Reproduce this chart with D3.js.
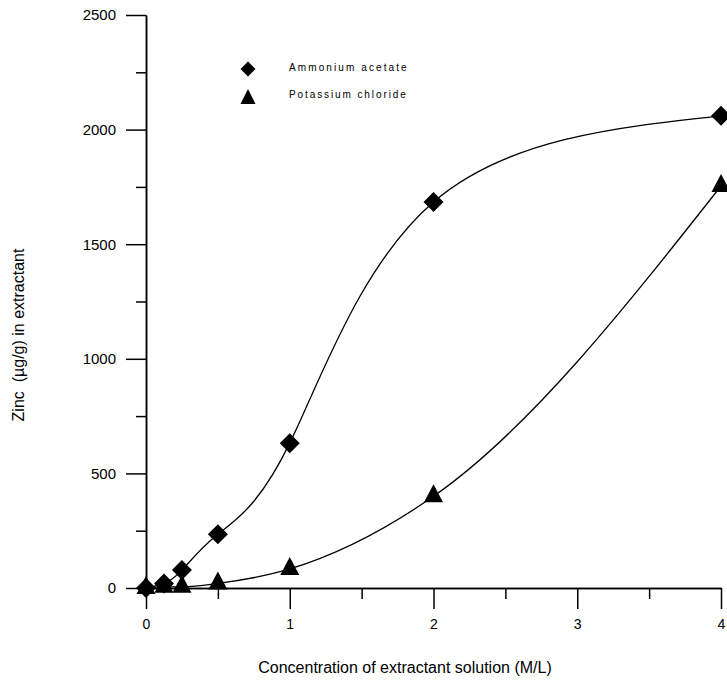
<!DOCTYPE html>
<html>
<head>
<meta charset="utf-8">
<script src="https://cdn.jsdelivr.net/npm/d3@7"></script>
<style>
  body { margin: 0; background: #fff; }
  svg { display: block; font-family: "Liberation Sans", Arial, sans-serif; }
  .axis path, .axis line { stroke: #000; stroke-width: 1.5; }
</style>
</head>
<body>
<div id="chart"></div>
<script>
var width = 727, height = 684;

// concentrations (M/L)
var conc = [0, 0.125, 0.25, 0.5, 1, 2, 4];
// zinc in extractant (ug/g)
var ammoniumAcetate = [0, 20, 78, 235, 632, 1684, 2060];
var potassiumChloride = [0, 5, 5, 20, 83, 400, 1754];

var xMajor = [0, 1, 2, 3, 4];
var xMinor = [0.5, 1.5, 2.5, 3.5];
var yMajor = [0, 500, 1000, 1500, 2000, 2500];
var yMinor = [250, 750, 1250, 1750, 2250];

var svg = d3.select("#chart")
  .append("svg")
  .attr("width", width)
  .attr("height", height);

var xScale = d3.scaleLinear()
  .domain([0, 4])
  .range([146, 721]);

var yScale = d3.scaleLinear()
  .domain([0, 2500])
  .range([588, 15]);

// minor ticks first, no labels
svg.append("g")
  .attr("class", "axis")
  .attr("transform", "translate(0,588)")
  .call(d3.axisBottom(xScale).tickValues(xMinor).tickSize(11).tickSizeOuter(0).tickFormat(""));

svg.append("g")
  .attr("class", "axis")
  .attr("transform", "translate(146,0)")
  .call(d3.axisLeft(yScale).tickValues(yMinor).tickSize(10).tickSizeOuter(0).tickFormat(""));

// major ticks with labels
var xAx = svg.append("g")
  .attr("class", "axis")
  .attr("transform", "translate(0,588)")
  .call(d3.axisBottom(xScale).tickValues(xMajor).tickSize(21).tickSizeOuter(0).tickPadding(10).tickFormat(d3.format("d")));

var yAx = svg.append("g")
  .attr("class", "axis")
  .attr("transform", "translate(146,0)")
  .call(d3.axisLeft(yScale).tickValues(yMajor).tickSize(20).tickSizeOuter(0).tickPadding(10).tickFormat(d3.format("d")));

xAx.selectAll("text").style("font-size", "14px").style("fill", "#000");
yAx.selectAll("text").style("font-size", "15px").style("fill", "#000");

// axis titles
svg.append("text")
  .attr("x", 405)
  .attr("y", 673)
  .attr("text-anchor", "middle")
  .style("font-size", "16px")
  .text("Concentration of extractant solution (M/L)");

svg.append("text")
  .attr("transform", "translate(24,335) rotate(-90)")
  .attr("text-anchor", "middle")
  .style("font-size", "16px")
  .style("white-space", "pre")
  .text("Zinc  (\u00b5g/g) in extractant");

// markers
function diamond(r) {
  return "M0," + (-r) + "L" + r + ",0L0," + r + "L" + (-r) + ",0Z";
}
function triangle(w, h) {
  return "M0," + (-h * 2 / 3) + "L" + (w / 2) + "," + (h / 3) + "L" + (-w / 2) + "," + (h / 3) + "Z";
}

var aaLine = d3.line()
  .x(function(d) { return xScale(d[0]); })
  .y(function(d) { return yScale(d[1]); })
  .curve(d3.curveNatural);

var kcLine = d3.line()
  .x(function(d) { return xScale(d[0]); })
  .y(function(d) { return yScale(d[1]); })
  .curve(d3.curveMonotoneX);

var aaData = conc.map(function(c, i) { return [c, ammoniumAcetate[i]]; });
var kcData = conc.map(function(c, i) { return [c, potassiumChloride[i]]; });

svg.append("path")
  .datum(aaData)
  .attr("d", aaLine)
  .attr("fill", "none")
  .attr("stroke", "#000")
  .attr("stroke-width", 1.3);

svg.append("path")
  .datum(kcData)
  .attr("d", kcLine)
  .attr("fill", "none")
  .attr("stroke", "#000")
  .attr("stroke-width", 1.3);

svg.selectAll(".aa")
  .data(aaData)
  .enter()
  .append("path")
  .attr("class", "aa")
  .attr("transform", function(d) { return "translate(" + xScale(d[0]) + "," + yScale(d[1]) + ")"; })
  .attr("d", diamond(10))
  .attr("fill", "#000");

svg.selectAll(".kc")
  .data(kcData)
  .enter()
  .append("path")
  .attr("class", "kc")
  .attr("transform", function(d) { return "translate(" + xScale(d[0]) + "," + yScale(d[1]) + ")"; })
  .attr("d", triangle(19, 18))
  .attr("fill", "#000");

// legend
var legend = svg.append("g");

legend.append("path")
  .attr("transform", "translate(248,69)")
  .attr("d", diamond(7.5))
  .attr("fill", "#000");

legend.append("path")
  .attr("transform", "translate(248,99)")
  .attr("d", triangle(15, 15))
  .attr("fill", "#000");

legend.append("text")
  .attr("x", 289)
  .attr("y", 70.5)
  .style("font-size", "10px")
  .style("letter-spacing", "2.1px")
  .text("Ammonium acetate");

legend.append("text")
  .attr("x", 289)
  .attr("y", 98)
  .style("font-size", "10px")
  .style("letter-spacing", "1.9px")
  .text("Potassium chloride");
</script>
</body>
</html>
